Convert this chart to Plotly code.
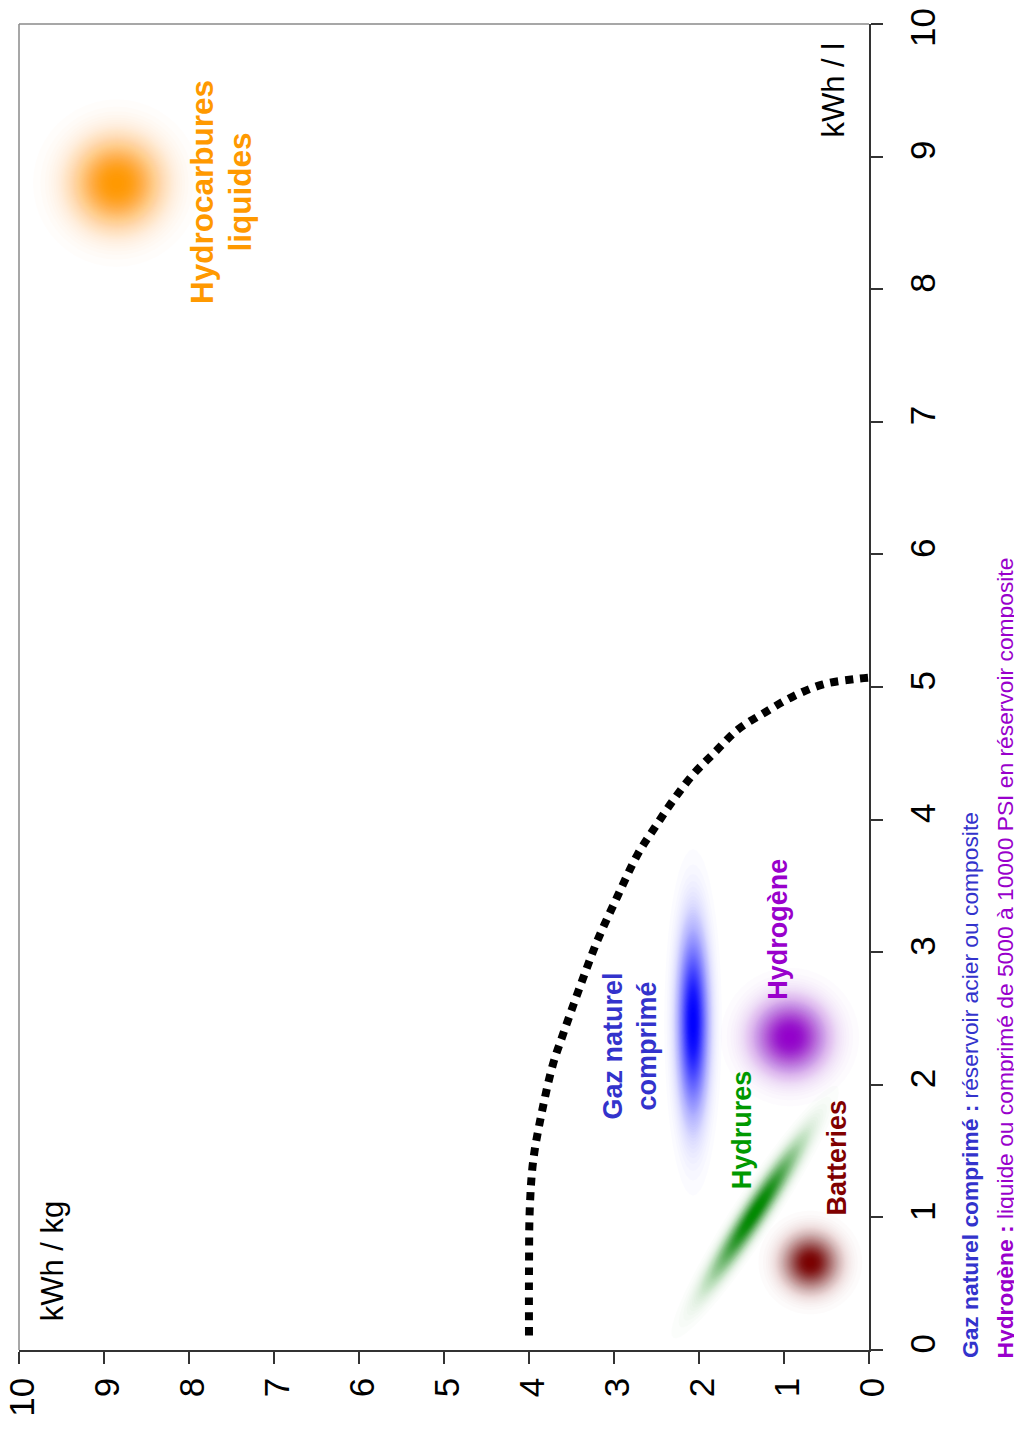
import math
import plotly.graph_objects as go

FONT = "Liberation Sans, Arial, Helvetica, sans-serif"

# ---------------- data ----------------
tick_vals = [0, 1, 2, 3, 4, 5, 6, 7, 8, 9, 10]
tick_text_kg = ["0", "1", "2", "3", "4", "5", "6", "7", "8", "9", "10"]
tick_text_l = ["0", "1", "2", "3", "4", "5", "6", "7", "8", "9", "10\u00a0\u00a0"]

# dotted boundary curve (kWh/kg, kWh/l)
curve_kg = [4.00, 4.00, 3.99, 3.95, 3.85, 3.72, 3.60, 3.40, 3.20, 2.96, 2.72,
            2.52, 2.31, 2.07, 1.81, 1.54, 1.22, 0.89, 0.54, 0.16, 0.01]
curve_l = [0.11, 0.60, 1.08, 1.43, 1.79, 2.15, 2.38, 2.74, 3.08, 3.42, 3.74,
           3.94, 4.14, 4.34, 4.51, 4.68, 4.81, 4.93, 5.02, 5.06, 5.07]

# storage technologies: centre of each blob
blob_names = ["Hydrocarbures liquides", "Gaz naturel comprimé", "Hydrogène", "Hydrures", "Batteries"]
blob_kg = [8.85, 2.07, 0.93, 1.34, 0.69]
blob_l = [8.80, 2.47, 2.36, 1.04, 0.66]

# labels
label_text = ["Hydrocarbures", "liquides", "Gaz naturel", "comprimé", "Hydrogène", "Hydrures", "Batteries"]
label_kg = [7.84, 7.40, 3.01, 2.61, 1.07, 1.49, 0.38]
label_l = [8.73, 8.73, 2.29, 2.29, 3.17, 1.66, 1.45]

axis_text = ["kWh / kg", "kWh / l"]
axis_text_kg = [9.61, 0.42]
axis_text_l = [0.67, 9.50]

note_lines = [
    "<b>Gaz naturel comprimé :</b> réservoir acier ou composite",
    "<b>Hydrogène :</b> liquide ou comprimé de 5000 à 10000 PSI en réservoir composite",
]

# ---------------- styles ----------------
blob_colors = ["#FF9900", "#0000FF", "#9400CC", "#008A00", "#7A0000"]
blob_sig_major = [29, 60, 24, 52, 18]    # px
blob_sig_minor = [29, 10.0, 24, 7.5, 18]  # px
blob_angle = [0, 90, 0, 57, 0]           # deg
label_colors = ["#FF9900", "#FF9900", "#3333CC", "#3333CC", "#9900CC", "#009900", "#800000"]
label_sizes = [31.5, 31.5, 27, 27, 27, 27, 27]
note_colors = ["#3333CC", "#9900CC"]


def ellipse_path(a, b, ang_deg, n=48):
    t = math.radians(ang_deg)
    pts = []
    for i in range(n):
        th = 2 * math.pi * i / n
        x = a * math.cos(th)
        y = b * math.sin(th)
        xr = x * math.cos(t) - y * math.sin(t)
        yr = x * math.sin(t) + y * math.cos(t)
        pts.append(f"{xr:.2f},{yr:.2f}")
    return "M" + " L".join(pts) + " Z"


shapes = []
N_LAYERS = 64
PEAK = 0.985
for i in range(len(blob_names)):
    prev = 0.0
    for k in range(1, N_LAYERS + 1):
        target = PEAK * k / N_LAYERS
        op = 1 - (1 - target) / (1 - prev)
        prev = target
        s = math.sqrt(-2 * math.log(target))
        shapes.append(dict(
            type="path", xref="x", yref="y",
            xsizemode="pixel", ysizemode="pixel",
            xanchor=blob_kg[i], yanchor=blob_l[i],
            path=ellipse_path(s * blob_sig_major[i], s * blob_sig_minor[i], blob_angle[i]),
            fillcolor=blob_colors[i], opacity=op,
            line=dict(width=0), layer="below",
        ))

# frame (top and left, grey)
shapes.append(dict(type="line", xref="paper", yref="paper", x0=0, x1=1, y0=1, y1=1,
                   line=dict(color="#8a8a8a", width=1.5)))
shapes.append(dict(type="line", xref="paper", yref="paper", x0=0, x1=0, y0=0, y1=1,
                   line=dict(color="#8a8a8a", width=1.5)))

fig = go.Figure()
fig.add_trace(go.Scatter(
    x=curve_kg, y=curve_l, mode="lines",
    line=dict(color="black", width=8, dash="8px,7px", shape="spline"),
    hoverinfo="skip", showlegend=False,
))

annotations = []
for t, xk, yl, c, sz in zip(label_text, label_kg, label_l, label_colors, label_sizes):
    annotations.append(dict(
        text=f"<b>{t}</b>", x=xk, y=yl, xref="x", yref="y", showarrow=False,
        textangle=-90, xanchor="center", yanchor="middle",
        font=dict(family=FONT, size=sz, color=c),
    ))
for t, xk, yl in zip(axis_text, axis_text_kg, axis_text_l):
    annotations.append(dict(
        text=t, x=xk, y=yl, xref="x", yref="y", showarrow=False,
        textangle=-90, xanchor="center", yanchor="middle",
        font=dict(family=FONT, size=31, color="black"),
    ))
note_x = [1.119, 1.160]
for t, nx, c in zip(note_lines, note_x, note_colors):
    annotations.append(dict(
        text=t, x=nx, y=-0.0075, xref="paper", yref="paper", showarrow=False,
        textangle=-90, xanchor="center", yanchor="bottom",
        font=dict(family=FONT, size=22.8, color=c),
    ))

axis_common = dict(
    tickvals=tick_vals, ticks="outside", ticklen=12,
    tickwidth=1.5, tickcolor="#333333", showline=True, linecolor="#333333",
    linewidth=1.5, showgrid=False, zeroline=False, tickangle=-90,
    tickfont=dict(family=FONT, size=35, color="black"), fixedrange=True,
    automargin=False, ticklabeloverflow="allow",
)

# the page body adds an 8px offset: margins compensate for it
fig.update_layout(
    width=1022, height=1430,
    margin=dict(l=11, r=161, t=16, b=88, autoexpand=False),
    paper_bgcolor="white", plot_bgcolor="white",
    xaxis=dict(range=[10, 0], ticktext=tick_text_kg, ticklabelshift=-4, **axis_common),
    yaxis=dict(range=[0, 10], side="right", ticktext=tick_text_l, ticklabelstandoff=10,
               ticklabelshift=-1, **axis_common),
    shapes=shapes, annotations=annotations, showlegend=False,
)

fig.write_html("out.html")
